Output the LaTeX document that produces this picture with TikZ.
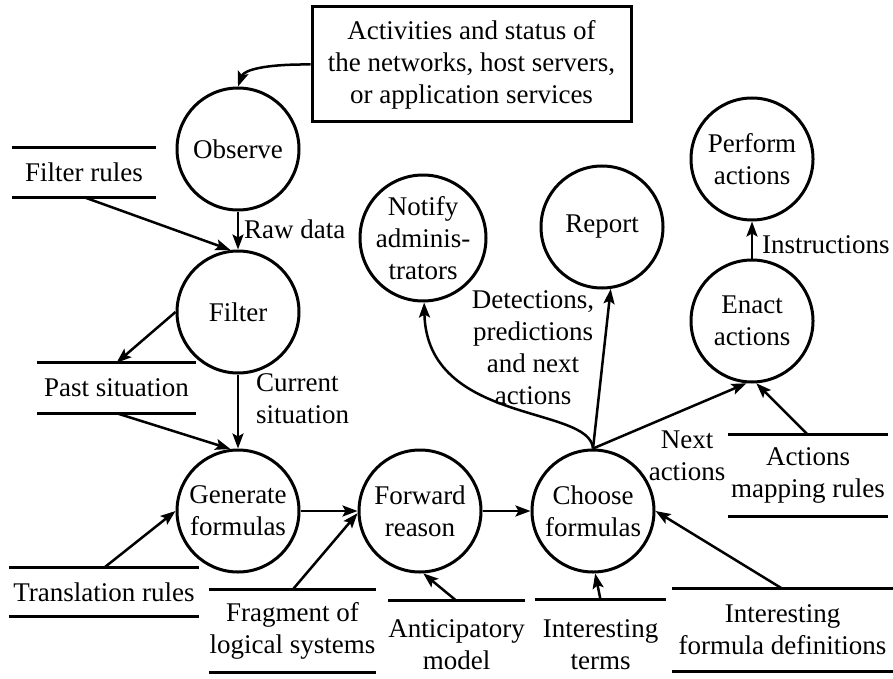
\documentclass[tikz,border=0pt]{standalone}
\usepackage{fontspec}
\setmainfont{Liberation Serif}
\usetikzlibrary{arrows.meta}
\begin{document}
\begin{tikzpicture}[x=1pt,y=-1pt,
  every node/.style={font=\fontsize{27}{32}\selectfont, inner sep=0pt},
  proc/.style={circle, draw, line width=3pt, minimum size=122pt, align=center},
  store/.style={align=center},
  flow/.style={line width=2.5pt, -{Stealth[length=15pt,width=11pt,inset=3pt]}},
  rule/.style={line width=3pt},
  lbl/.style={align=center}]
\useasboundingbox (0,0) rectangle (893,679);

% external entity
\node[draw, line width=3pt, minimum width=319pt, minimum height=115pt, align=center]
  (act) at (471.5,64.5) {Activities and status of\\the networks, host servers,\\or application services};

% processes
\node[proc] (obs) at (238,149) {Observe};
\node[proc] (fil) at (238,312) {Filter};
\node[proc] (gen) at (238,511) {Generate\\formulas};
\node[proc] (fwd) at (420,511) {Forward\\reason};
\node[proc] (cho) at (593,511) {Choose\\formulas};
\node[proc] (ntf) at (423,238) {Notify\\adminis-\\trators};
\node[proc] (rep) at (602,227) {Report};
\node[proc] (per) at (752,159) {Perform\\actions};
\node[proc] (ena) at (752,321) {Enact\\actions};

% data stores (text nodes, ruled above and below)
\node[store, minimum width=144pt, minimum height=49pt] (frl) at (84,172.5) {Filter rules};
\node[store, minimum width=159pt, minimum height=50pt] (pst) at (116.5,388) {Past situation};
\node[store, minimum width=190pt, minimum height=48pt] (trl) at (104,592) {Translation rules};
\node[store, minimum width=167pt, minimum height=82pt] (frg) at (292.5,631) {Fragment of\\logical systems};
\node[store, minimum width=221pt, minimum height=82pt] (ifd) at (782.5,630) {Interesting\\formula definitions};
\node[store, minimum width=160pt, minimum height=81pt] (amr) at (808,475.5) {Actions\\mapping rules};
\node[store, minimum width=137pt, minimum height=88pt] (ant) at (456.5,645) {Anticipatory\\model};
\node[store, minimum width=131pt, minimum height=90pt] (itm) at (600.5,645) {Interesting\\terms};

\foreach \s in {frl,pst,trl,frg,ifd,amr}{
  \draw[rule] (\s.north west) -- (\s.north east);
  \draw[rule] (\s.south west) -- (\s.south east);
}
\foreach \s in {ant,itm}{
  \draw[rule] (\s.north west) -- (\s.north east);
}

% flows
\draw[flow] (act.west) .. controls (265,64) and (244,70) .. (obs.north);
\draw[flow] (obs.south) -- (fil.north);
\draw[flow] (frl.south) -- (fil.97);
\draw[flow] (fil.west) -- (pst.north);
\draw[flow] (pst.south) -- (gen.97);
\draw[flow] (fil.south) -- (gen.north);
\draw[flow] (trl.north) -- (gen.west);
\draw[flow] (gen.east) -- (fwd.west);
\draw[flow] (frg.north) -- (fwd.182);
\draw[flow] (ant.north) -- (fwd.-87);
\draw[flow] (fwd.east) -- (cho.west);
\draw[flow] (itm.north) -- (cho.-88);
\draw[flow] (ifd.north) -- (cho.east);
\draw[flow] (cho.north) .. controls (590,405) and (427,425) .. (ntf.-89);
\draw[flow] (cho.north) -- (rep.-82);
\draw[flow] (cho.north) -- (ena.-95);
\draw[flow] (amr.north) -- (ena.-86);
\draw[flow] (ena.north) -- (per.south);

% flow labels
\node[anchor=west] (lraw) at (244,229) {Raw data};
\node[anchor=west, align=left] (lcur) at (256,399) {Current\\situation};
\node[lbl] (ldet) at (533,348) {Detections,\\predictions\\and next\\actions};
\node[lbl] (lnext) at (687,456) {Next\\actions};
\node[anchor=west] (lins) at (762,245) {Instructions};
\end{tikzpicture}
\end{document}
